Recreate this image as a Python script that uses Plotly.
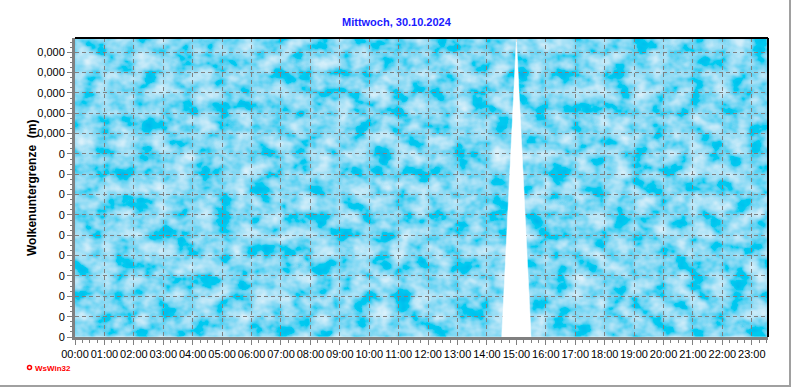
import base64
import plotly.graph_objects as go

# ---- data ----
times = [f"2024-10-30 {h:02d}:{m:02d}" for h in range(24) for m in (0, 30)]
values = [0.0] * len(times)
values[times.index("2024-10-30 15:00")] = 14.7

y_tickvals = list(range(15))
y_ticktext = ["0"] * 10 + ["0,000"] * 5
x_tickvals = [f"2024-10-30 {h:02d}:00" for h in range(24)]
x_ticktext = [f"{h:02d}:00" for h in range(24)]

title_text = "Mittwoch, 30.10.2024"
y_label = "Wolkenuntergrenze  (m)"

# ---- layout geometry ----
W, H = 792, 387
L, R, T, B = 75, 768, 38, 337
pw, ph = R - L, B - T


def px(x):
    return (x - L) / pw


def py(y):
    return (B - y) / ph


# cloudy sky texture
svg = f"""<svg xmlns='http://www.w3.org/2000/svg' width='{pw}' height='{ph}'>
<filter id='f' x='0' y='0' width='100%' height='100%'>
<feTurbulence type='fractalNoise' baseFrequency='0.05 0.065' numOctaves='3' seed='3' stitchTiles='stitch'/>
<feColorMatrix type='matrix' values='1.25 0 0 0 -0.409  0.493 0 0 0 0.4396  0.156 0 0 0 0.824  0 0 0 0 1'/>
</filter>
<rect width='{pw}' height='{ph}' filter='url(#f)'/>
</svg>"""
src = "data:image/svg+xml;base64," + base64.b64encode(svg.encode()).decode()

fig = go.Figure()
fig.add_trace(go.Scatter(
    x=times, y=values, mode="lines",
    line=dict(color="white", width=0.5),
    fill="tozeroy", fillcolor="white",
    hoverinfo="skip", showlegend=False,
))

axis_font = dict(family="Liberation Sans, Arial, sans-serif", size=11, color="black")

fig.update_layout(
    width=W, height=H,
    margin=dict(l=L, r=W - R, t=T, b=H - B),
    paper_bgcolor="white",
    plot_bgcolor="rgba(0,0,0,0)",
    showlegend=False,
    xaxis=dict(
        type="date",
        range=["2024-10-30 00:00", "2024-10-30 23:33"],
        tickmode="array", tickvals=x_tickvals, ticktext=x_ticktext,
        tickfont=axis_font, tickangle=0,
        ticks="outside", ticklen=5, tickcolor="#808080", tickwidth=1,
        showline=True, linecolor="#808080", linewidth=3,
        showgrid=True, gridcolor="#808080", gridwidth=1, griddash="4px,3px",
        minor=dict(dtick=900000, ticks="outside", ticklen=3, tickcolor="#808080",
                   showgrid=False, tick0="2024-10-30 00:00"),
        zeroline=False, fixedrange=True,
    ),
    yaxis=dict(
        range=[0, 14.7],
        tickmode="array", tickvals=y_tickvals, ticktext=y_ticktext,
        tickfont=axis_font,
        ticks="outside", ticklen=5, tickcolor="#808080", tickwidth=1,
        showline=True, linecolor="#808080", linewidth=3,
        showgrid=True, gridcolor="#808080", gridwidth=1, griddash="4px,3px",
        minor=dict(dtick=0.25, ticks="outside", ticklen=2, tickcolor="#808080",
                   showgrid=False, tick0=0),
        zeroline=False, fixedrange=True,
    ),
    images=[dict(
        source=src, xref="paper", yref="paper", x=0, y=1,
        sizex=1, sizey=1, sizing="stretch", layer="below",
        xanchor="left", yanchor="top",
    )],
    shapes=[
        dict(type="line", xref="paper", yref="paper", x0=0, x1=1, y0=1, y1=1,
             line=dict(color="black", width=2)),
        dict(type="line", xref="paper", yref="paper", x0=1, x1=1, y0=0, y1=1,
             line=dict(color="black", width=2)),
        dict(type="line", xref="paper", yref="paper", x0=px(0), x1=px(791),
             y0=py(386), y1=py(386), line=dict(color="#a0a0a0", width=2)),
        dict(type="line", xref="paper", yref="paper", x0=px(790), x1=px(790),
             y0=py(0), y1=py(386), line=dict(color="#a0a0a0", width=2)),
        dict(type="circle", xref="paper", yref="paper", x0=px(27.5), x1=px(31.5),
             y0=py(369.5), y1=py(365.5), line=dict(color="red", width=1.5)),
    ],
    annotations=[
        dict(text=f"<b>{title_text}</b>", xref="paper", yref="paper",
             x=px(397), y=py(22), showarrow=False, xanchor="center", yanchor="middle",
             font=dict(family="Liberation Sans, Arial, sans-serif", size=11, color="#1a1aff")),
        dict(text=f"<b>{y_label}</b>", xref="paper", yref="paper",
             x=px(32), y=py(188), showarrow=False, textangle=-90,
             xanchor="center", yanchor="middle",
             font=dict(family="Liberation Sans, Arial, sans-serif", size=12, color="black")),
        dict(text="<b>WsWin32</b>", xref="paper", yref="paper",
             x=px(33), y=py(368), showarrow=False, xanchor="left", yanchor="middle",
             font=dict(family="Liberation Sans, Arial, sans-serif", size=8, color="red")),
    ],
)

fig.write_html("out.html")
